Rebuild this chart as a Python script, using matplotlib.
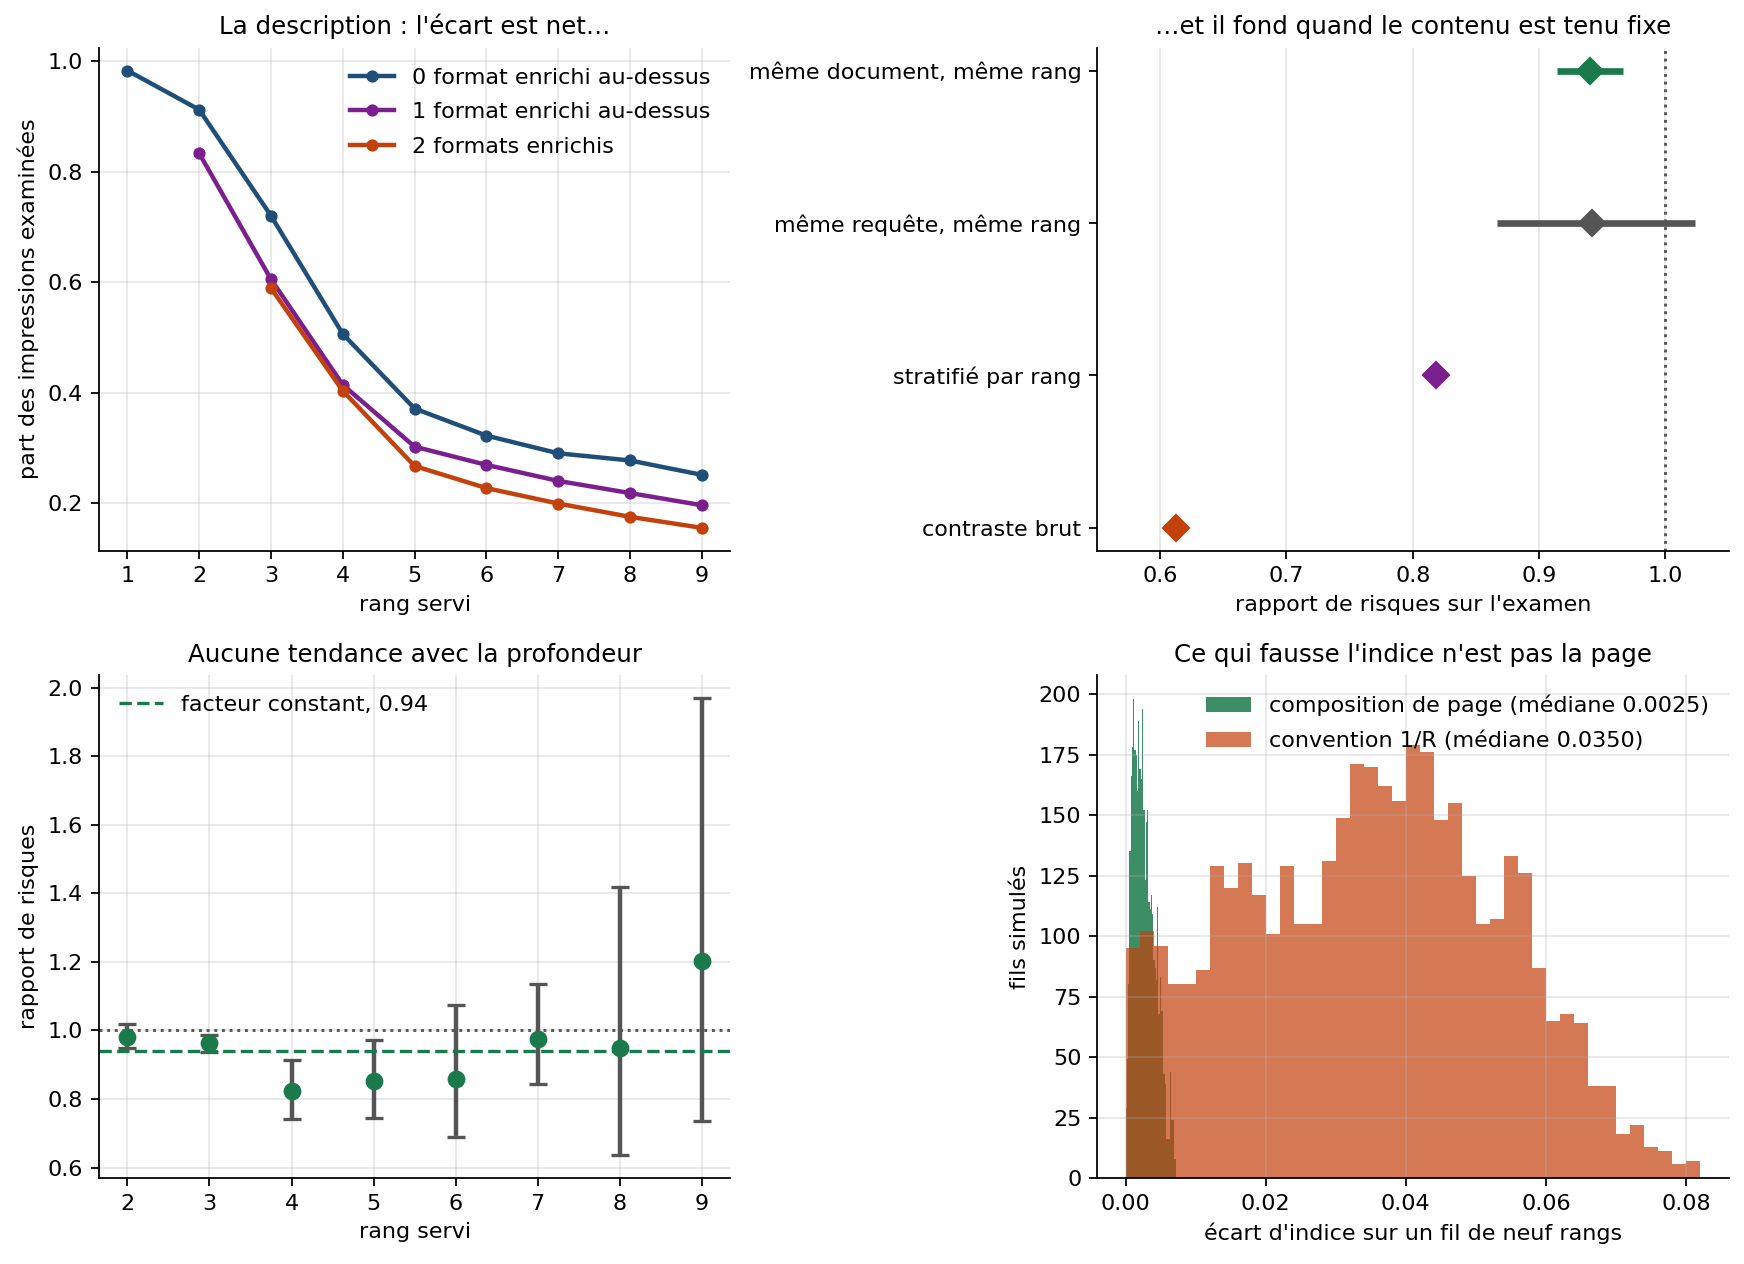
import numpy as np
import matplotlib
matplotlib.use("Agg")
import matplotlib.pyplot as plt

# --- panneau 1 : part examinee par rang
rangs = [1, 2, 3, 4, 5, 6, 7, 8, 9]
part_0 = [0.983, 0.912, 0.720, 0.506, 0.371, 0.322, 0.290, 0.277, 0.251]
rangs_1 = [2, 3, 4, 5, 6, 7, 8, 9]
part_1 = [0.833, 0.605, 0.414, 0.302, 0.269, 0.240, 0.218, 0.196]
rangs_2 = [3, 4, 5, 6, 7, 8, 9]
part_2 = [0.589, 0.403, 0.267, 0.227, 0.199, 0.175, 0.155]

# --- panneau 2 : rapports de risques
estim_labels = ["contraste brut", "stratifié par rang",
                "même requête, même rang", "même document, même rang"]
estim_rr = [0.613, 0.818, 0.942, 0.940]
estim_lo = [0.613, 0.818, 0.867, 0.914]
estim_hi = [0.613, 0.818, 1.023, 0.966]

# --- panneau 3 : RR par rang
rr_rangs = [2, 3, 4, 5, 6, 7, 8, 9]
rr_val = [0.982, 0.962, 0.822, 0.851, 0.859, 0.976, 0.948, 1.201]
rr_lo = [0.948, 0.938, 0.741, 0.745, 0.690, 0.844, 0.636, 0.735]
rr_hi = [1.018, 0.988, 0.914, 0.972, 1.074, 1.135, 1.418, 1.970]
facteur = 0.94

# --- panneau 4 : histogrammes
page_edges = np.linspace(0.0, 0.0072, 41)
page_counts = [29, 49, 80, 135, 166, 178, 198, 177, 175, 160,
               189, 169, 165, 194, 152, 123, 147, 152, 114, 111,
               117, 109, 90, 87, 82, 112, 68, 83, 69, 69,
               43, 39, 16, 16, 16, 44, 24, 24, 8, 8]
conv_edges = np.linspace(0.0, 0.082, 42)
conv_counts = [95, 102, 96, 80, 80, 86, 129, 120, 130, 117,
               101, 129, 105, 105, 131, 149, 171, 170, 162, 156,
               179, 176, 148, 155, 125, 105, 107, 133, 126, 87,
               65, 68, 64, 38, 38, 18, 22, 13, 11, 6, 7]

BLEU = "#1f4e79"
VIOLET = "#7b1f8f"
ORANGE = "#c2410c"
VERT = "#1b7a4b"
GRIS = "#555555"

fig, axes = plt.subplots(2, 2, figsize=(10.9, 7.9), dpi=160)
fig.subplots_adjust(left=0.0566, right=0.9912, top=0.9623, bottom=0.068,
                    wspace=0.58, hspace=0.247)
for ax in axes.flat:
    ax.spines["top"].set_visible(False)
    ax.spines["right"].set_visible(False)

# panneau 1
ax = axes[0, 0]
ax.plot(rangs, part_0, "-o", color=BLEU, lw=2, ms=4.5, label="0 format enrichi au-dessus")
ax.plot(rangs_1, part_1, "-o", color=VIOLET, lw=2, ms=4.5, label="1 format enrichi au-dessus")
ax.plot(rangs_2, part_2, "-o", color=ORANGE, lw=2, ms=4.5, label="2 formats enrichis")
ax.set_xticks(rangs)
ax.grid(True, alpha=0.3)
ax.set_xlabel("rang servi")
ax.set_ylabel("part des impressions examinées")
ax.set_title("La description : l'écart est net…", fontsize=11)
ax.legend(frameon=False, loc="upper right", labelspacing=0.65)

# panneau 2
ax = axes[0, 1]
couleurs = [ORANGE, VIOLET, GRIS, VERT]
ypos = np.arange(len(estim_labels))
for i in range(len(estim_labels)):
    ax.plot([estim_lo[i], estim_hi[i]], [ypos[i], ypos[i]], color=couleurs[i], lw=3,
            solid_capstyle="butt")
    ax.plot(estim_rr[i], ypos[i], "D", color=couleurs[i], ms=8)
ax.axvline(1.0, color=GRIS, ls=":", lw=1.3)
ax.set_yticks(ypos)
ax.set_yticklabels(estim_labels)
ax.set_xlim(0.55, 1.05)
ax.grid(True, axis="x", alpha=0.3)
ax.set_xlabel("rapport de risques sur l'examen")
ax.set_title("…et il fond quand le contenu est tenu fixe", fontsize=11)

# panneau 3
ax = axes[1, 0]
err = [np.array(rr_val) - np.array(rr_lo), np.array(rr_hi) - np.array(rr_val)]
ax.errorbar(rr_rangs, rr_val, yerr=err, fmt="o", color=VERT, ms=7,
            ecolor=GRIS, elinewidth=2, capsize=4, capthick=1.5)
ax.axhline(1.0, color=GRIS, ls=":", lw=1.3)
ax.axhline(facteur, color=VERT, ls="--", lw=1.5, label=f"facteur constant, {facteur}")
ax.set_xticks(rr_rangs)
ax.grid(True, alpha=0.3)
ax.set_xlabel("rang servi")
ax.set_ylabel("rapport de risques")
ax.set_title("Aucune tendance avec la profondeur", fontsize=11)
ax.legend(frameon=False, loc="upper left")

# panneau 4
ax = axes[1, 1]
ax.hist(page_edges[:-1], bins=page_edges, weights=page_counts, color=VERT, alpha=0.85,
        label="composition de page (médiane 0.0025)")
ax.hist(conv_edges[:-1], bins=conv_edges, weights=conv_counts, color=ORANGE, alpha=0.7,
        label="convention 1/R (médiane 0.0350)")
ax.grid(True, alpha=0.3)
ax.set_xlabel("écart d'indice sur un fil de neuf rangs")
ax.set_ylabel("fils simulés")
ax.set_title("Ce qui fausse l'indice n'est pas la page", fontsize=11)
ax.legend(frameon=False, loc="upper right", labelspacing=0.65)

fig.savefig("out.png", dpi=160)
